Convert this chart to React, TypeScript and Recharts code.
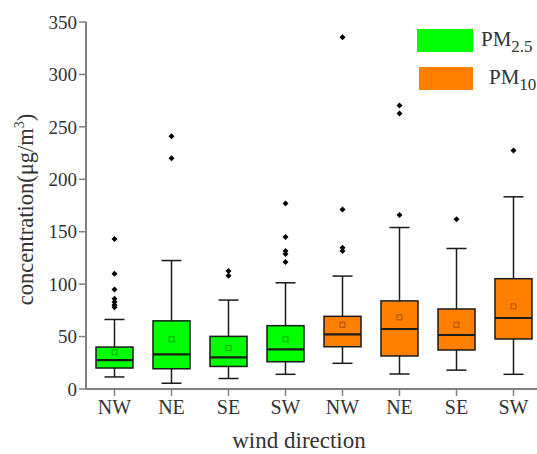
import React from 'react';
import { ComposedChart, Bar, XAxis, YAxis } from 'recharts';

// wind sectors, drawn once per pollutant
const directions = ['NW', 'NE', 'SE', 'SW'];
const yTicks = [0, 50, 100, 150, 200, 250, 300, 350];

// PM2.5 box statistics per direction
const pm25Low = [11.5, 5.5, 10, 14];
const pm25Q1 = [20, 19.3, 21.5, 26];
const pm25Median = [27.6, 33, 30.2, 37.8];
const pm25Q3 = [40, 65, 50.2, 60.4];
const pm25High = [66.3, 122.5, 84.8, 101.3];
const pm25Mean = [35, 47.4, 39, 47.4];
const pm25Outliers = [
  [143, 110, 95, 86, 83, 80, 78],
  [241, 220],
  [112.5, 108],
  [177, 145, 131.5, 128.7, 121],
];

// PM10 box statistics per direction
const pm10Low = [24.5, 14.3, 18, 14];
const pm10Q1 = [40.3, 31.5, 37.2, 47.7];
const pm10Median = [52, 57.2, 51.5, 67.7];
const pm10Q3 = [69.3, 84, 76.3, 105.2];
const pm10High = [107.7, 154, 134, 183.3];
const pm10Mean = [61.3, 68.3, 61.3, 78.8];
const pm10Outliers = [[335.5, 171.3, 134.7, 131.5], [270.4, 262.8, 165.9], [161.8], [227.5]];

const GREEN = '#00ff00';
const ORANGE = '#ff8000';
const AXIS = '#808080';
const TEXT = '#333';
const FONT = "'Liberation Serif', 'Times New Roman', serif";

const buildRows = (
  low: number[], q1: number[], med: number[], q3: number[], high: number[],
  mean: number[], outliers: number[][], color: string
) =>
  directions.map((dir, i) => ({
    dir,
    low: low[i],
    q1: q1[i],
    median: med[i],
    q3: q3[i],
    high: high[i],
    mean: mean[i],
    outliers: outliers[i],
    color,
  }));

const data = [
  ...buildRows(pm25Low, pm25Q1, pm25Median, pm25Q3, pm25High, pm25Mean, pm25Outliers, GREEN),
  ...buildRows(pm10Low, pm10Q1, pm10Median, pm10Q3, pm10High, pm10Mean, pm10Outliers, ORANGE),
];

// bar runs 0..high, so its own geometry gives the y scale for the other stats
const BoxShape = (props: any) => {
  const { x, y, width, height, payload } = props;
  if (!payload || !height) return null;
  const base = y + height;
  const k = height / payload.high;
  const sy = (v: number) => base - v * k;
  const cx = x + width / 2;
  const cap = 10;
  const line = '#1a1a1a';
  return (
    <g>
      <line x1={cx} x2={cx} y1={sy(payload.high)} y2={sy(payload.q3)} stroke={line} strokeWidth={1.5} />
      <line x1={cx} x2={cx} y1={sy(payload.q1)} y2={sy(payload.low)} stroke={line} strokeWidth={1.5} />
      <line x1={cx - cap} x2={cx + cap} y1={sy(payload.high)} y2={sy(payload.high)} stroke={line} strokeWidth={1.5} />
      <line x1={cx - cap} x2={cx + cap} y1={sy(payload.low)} y2={sy(payload.low)} stroke={line} strokeWidth={1.5} />
      <rect
        x={x}
        y={sy(payload.q3)}
        width={width}
        height={sy(payload.q1) - sy(payload.q3)}
        fill={payload.color}
        stroke={line}
        strokeWidth={1.5}
      />
      <line x1={x} x2={x + width} y1={sy(payload.median)} y2={sy(payload.median)} stroke={line} strokeWidth={2.2} />
      <rect
        x={cx - 2.5}
        y={sy(payload.mean) - 2.5}
        width={5}
        height={5}
        fill="none"
        stroke="rgba(0,0,0,0.35)"
        strokeWidth={1}
      />
      {payload.outliers.map((v: number, i: number) => {
        const oy = sy(v);
        return (
          <path
            key={i}
            d={`M${cx},${oy - 3} L${cx + 3},${oy} L${cx},${oy + 3} L${cx - 3},${oy} Z`}
            fill="#000"
          />
        );
      })}
    </g>
  );
};

const YTitle = (props: any) => {
  const vb = props.viewBox || {};
  const cy = vb.y + vb.height / 2 + 4;
  const tx = 33;
  return (
    <text
      x={tx}
      y={cy}
      transform={`rotate(-90, ${tx}, ${cy})`}
      textAnchor="middle"
      fontSize={22.5}
      fill={TEXT}
      fontFamily={FONT}
    >
      concentration(μg/m<tspan dy={-9} fontSize={14}>3</tspan>
      <tspan dy={9}>)</tspan>
    </text>
  );
};

const legendItems = [
  { color: GREEN, name: 'PM', sub: '2.5', left: 0, top: 0, tx: 64 },
  { color: ORANGE, name: 'PM', sub: '10', left: 2, top: 38, tx: 70 },
];

const LegendBox = () => (
  <div style={{ position: 'absolute', left: 417, top: 29, fontFamily: FONT, color: TEXT, fontSize: 21 }}>
    {legendItems.map((it) => (
      <div key={it.sub} style={{ position: 'absolute', left: it.left, top: it.top, height: 24, width: 130 }}>
        <div style={{ position: 'absolute', left: 0, top: 0, width: 56 - it.left, height: 23, background: it.color }} />
        <div style={{ position: 'absolute', left: it.tx, top: -2, whiteSpace: 'nowrap', lineHeight: '24px' }}>
          {it.name}
          <sub style={{ fontSize: 17, verticalAlign: -6 }}>{it.sub}</sub>
        </div>
      </div>
    ))}
  </div>
);

export default function App() {
  return (
    <div
      style={{
        position: 'absolute',
        left: 0,
        top: 0,
        width: 537,
        height: 454,
        overflow: 'hidden',
        background: '#fff',
        fontFamily: FONT,
      }}
    >
      <ComposedChart
        width={545}
        height={454}
        data={data}
        margin={{ top: 22, right: 3, bottom: 0, left: 0 }}
        barCategoryGap={20}
      >
        <XAxis
          dataKey="dir"
          height={65}
          axisLine={{ stroke: AXIS, strokeWidth: 2 }}
          tickLine={{ stroke: AXIS, strokeWidth: 1.5 }}
          tickSize={7}
          tick={{ fill: TEXT, fontSize: 20, fontFamily: FONT, dy: 2 }}
          interval={0}
          label={{
            value: 'wind direction',
            position: 'insideBottom',
            offset: 6,
            dx: -15,
            fill: TEXT,
            fontSize: 23,
            fontFamily: FONT,
          }}
        />
        <XAxis
          xAxisId="top"
          orientation="top"
          dataKey="dir"
          height={0}
          tick={false}
          tickLine={false}
          axisLine={{ stroke: AXIS, strokeWidth: 2 }}
        />
        <YAxis
          width={86}
          domain={[0, 350]}
          ticks={yTicks}
          interval={0}
          axisLine={{ stroke: AXIS, strokeWidth: 2 }}
          tickLine={{ stroke: AXIS, strokeWidth: 1.5 }}
          tickSize={7}
          tick={{ fill: TEXT, fontSize: 19, fontFamily: FONT }}
          label={<YTitle />}
        />
        <Bar dataKey="high" barSize={37} shape={<BoxShape />} isAnimationActive={false} />
      </ComposedChart>
      <LegendBox />
    </div>
  );
}
